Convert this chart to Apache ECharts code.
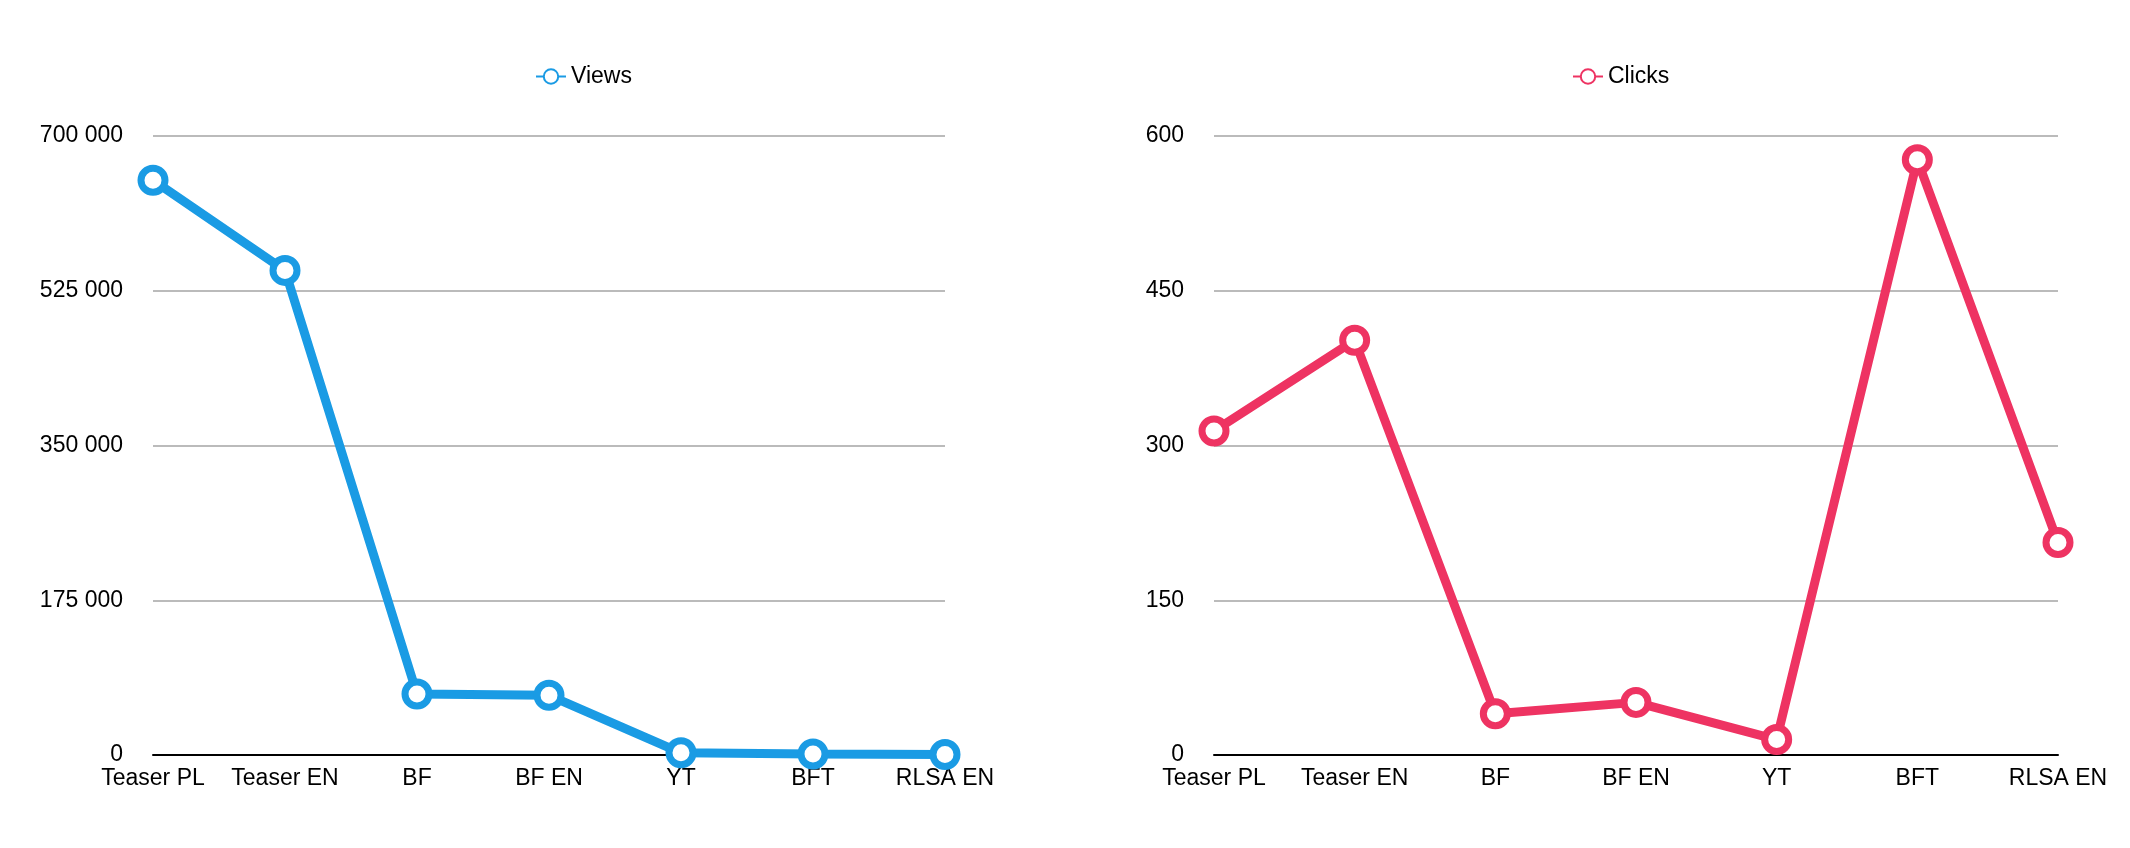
<!DOCTYPE html>
<html><head><meta charset="utf-8">
<script src="https://cdn.jsdelivr.net/npm/echarts@6/dist/echarts.min.js"></script>
<style>html,body{margin:0;background:#fff}#c{width:2130px;height:848px}</style>
</head><body><div id="c"></div>
<script>
const categories = ['Teaser PL','Teaser EN','BF','BF EN','YT','BFT','RLSA EN'];
const views = [650000, 548000, 69000, 67500, 2500, 1200, 600];
const clicks = [314, 402, 40, 51, 15, 577, 206];
const viewsTicks = [0, 175000, 350000, 525000, 700000];
const clicksTicks = [0, 150, 300, 450, 600];
const fmt = v => String(v).replace(/\B(?=(\d{3})+(?!\d))/g, ' ');
const font = 'Liberation Sans, Arial, sans-serif';
const chart = echarts.init(document.getElementById('c'));
function xAx(i){return {type:'category',gridIndex:i,data:categories,boundaryGap:false,
  axisLine:{lineStyle:{color:'#000',width:2}},axisTick:{show:false},
  axisLabel:{interval:0,color:'#000',fontSize:23,fontFamily:font,margin:12}};}
function yAx(i,max,int){return {type:'value',gridIndex:i,min:0,max:max,interval:int,
  axisLine:{show:false},axisTick:{show:false},
  splitLine:{lineStyle:{color:'#bbb',width:2}},
  axisLabel:{color:'#000',fontSize:23,fontFamily:font,margin:30,formatter:fmt}};}
function ser(name,i,data,color){return {name:name,type:'line',xAxisIndex:i,yAxisIndex:i,data:data,
  symbol:'circle',symbolSize:24,lineStyle:{width:9,color:color},
  itemStyle:{color:'#fff',borderColor:color,borderWidth:7},z:3};}
chart.setOption({
  animation:false,
  legend:[
    {data:['Views'],left:530,top:60,textStyle:{fontSize:23,fontFamily:font,color:'#000'},itemWidth:30,itemHeight:18},
    {data:['Clicks'],left:1567,top:60,textStyle:{fontSize:23,fontFamily:font,color:'#000'},itemWidth:30,itemHeight:18}
  ],
  grid:[
    {left:153,right:2130-945,top:136,bottom:848-755},
    {left:1214,right:2130-2058,top:136,bottom:848-755}
  ],
  xAxis:[xAx(0),xAx(1)],
  yAxis:[yAx(0,700000,175000),yAx(1,600,150)],
  series:[ser('Views',0,views,'#1a9be4'),ser('Clicks',1,clicks,'#ee3362')]
});
</script></body></html>
